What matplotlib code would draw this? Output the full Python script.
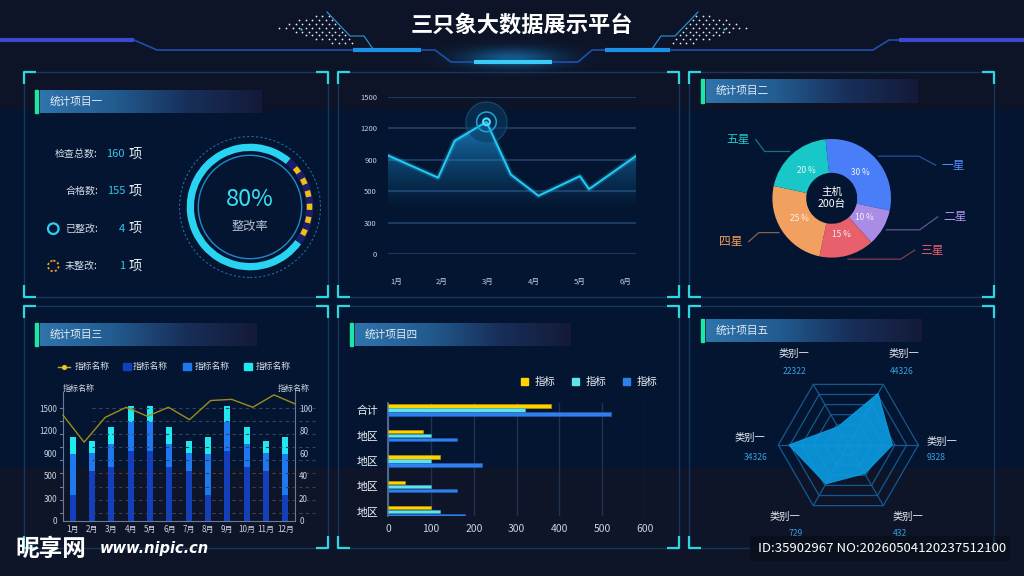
import numpy as np
import matplotlib.pyplot as plt
from matplotlib.patches import Rectangle, Circle, Wedge
from matplotlib.colors import to_rgb, LinearSegmentedColormap
from matplotlib.path import Path

plt.rcParams['font.family'] = ['Noto Sans CJK SC', 'DejaVu Sans']
plt.rcParams['axes.unicode_minus'] = False

W, H = 1024, 576

# ---------------- data ----------------
title = '三只象大数据展示平台'
panel_titles = ['统计项目一', '统计项目二', '统计项目三', '统计项目四', '统计项目五']

stat_names = ['检查总数:', '合格数:', '已整改:', '未整改:']
stat_values = [160, 155, 4, 1]
rate = 80
rate_name = '整改率'

line_months = ['1月', '2月', '3月', '4月', '5月', '6月']
line_x = [0.83, 1.92, 2.28, 2.97, 3.50, 4.10, 5.00, 5.20, 6.22]
line_y = [940, 670, 1080, 1260, 710, 470, 690, 525, 935]
line_ticks = [0, 300, 500, 900, 1200, 1500]

star_names = ['一星', '二星', '三星', '四星', '五星']
star_share = [30, 10, 15, 25, 20]
host_label = '主机\n200台'

bar_months = ['1月', '2月', '3月', '4月', '5月', '6月', '7月', '8月', '9月', '10月', '11月', '12月']
bar_s1 = [335, 595, 655, 930, 930, 655, 595, 335, 930, 655, 595, 335]
bar_s2 = [550, 315, 370, 395, 395, 370, 315, 550, 395, 370, 315, 550]
bar_s3 = [235, 150, 230, 210, 210, 230, 150, 235, 210, 230, 150, 235]
rate_line = [94, 70, 92, 101, 93, 101, 90, 107, 108, 101, 112, 104]
bar_ticks_l = [0, 300, 500, 900, 1200, 1500]
bar_ticks_r = [0, 20, 40, 60, 80, 100]
bar_legend = ['指标名称', '指标名称', '指标名称', '指标名称']
bar_axis_name = '指标名称'

region_names = ['合计', '地区', '地区', '地区', '地区']
ind_a = [380, 80, 120, 40, 100]
ind_b = [320, 100, 100, 100, 120]
ind_c = [520, 160, 220, 160, 180]
ind_legend = ['指标', '指标', '指标']

radar_names = ['类别一', '类别一', '类别一', '类别一', '类别一', '类别一']
radar_nums = ['9328', '44326', '22322', '34326', '729', '432']
radar_vals = [63, 85, 30, 85, 64, 47]

# value axis with uneven tick labels (piecewise scale)
knots = [0, 300, 500, 900, 1200, 1500, 1800]


def fwd(v):
    return np.interp(v, knots, np.arange(len(knots)))


def inv(p):
    return np.interp(p, np.arange(len(knots)), knots)


def frect(x0, y0, x1, y1):
    return [x0 / W, 1 - y1 / H, (x1 - x0) / W, (y1 - y0) / H]


fig = plt.figure(figsize=(10.24, 5.76), dpi=100)
fig.patch.set_facecolor('#0d1428')

bg = fig.add_axes([0, 0, 1, 1])
bg.axis('off')
bg.add_patch(Rectangle((0, 110), W, 358, color='#031530', zorder=0))
bg.add_patch(Rectangle((0, 468), W, 108, color='#0e1529', zorder=0))

# ---------------- header ----------------
gx, gy = np.meshgrid(np.linspace(-1, 1, 200), np.linspace(-1, 1, 60))
glow = np.zeros((60, 200, 4))
glow[..., :3] = to_rgb('#1a90d8')
glow[..., 3] = np.exp(-(gx ** 2 + gy ** 2) * 4) * 0.55
bg.imshow(glow, extent=(417, 607, 78, 38), aspect='auto', zorder=1)

hx = [0, 134, 157, 353, 435, 451, 578, 592, 873, 889, 1024]
hy = [40, 40, 50, 50, 50, 62, 62, 50, 50, 40, 40]
bg.plot(hx, hy, color='#1f4fae', lw=1.2, zorder=2)
for xa, xb, yy, c in [(0, 134, 40, '#3b48d0'), (899, 1024, 40, '#3b48d0'),
                      (353, 421, 50, '#1c8fe6'), (605, 670, 50, '#1c8fe6'),
                      (474, 552, 62, '#38ccf6')]:
    bg.plot([xa, xb], [yy, yy], color=c, lw=3, solid_capstyle='butt', zorder=3)

dot_shape = Path([(318, 14), (276, 27), (337, 47), (360, 47), (333, 14)])
dx_, dy_ = np.meshgrid(np.arange(276, 362, 6.6), np.arange(16, 47, 3.9))
dx_ = dx_ + (np.arange(dx_.shape[0])[:, None] % 2) * 3.3
pts = np.column_stack([dx_.ravel(), dy_.ravel()])
pts = pts[dot_shape.contains_points(pts)]
for sgn in (1, -1):
    xs = pts[:, 0] if sgn == 1 else 1025 - pts[:, 0]
    bg.scatter(xs, pts[:, 1], s=1.6, color='#e8eef8', lw=0, zorder=3)
    lx = np.array([327, 350, 364, 373])
    bg.plot(lx if sgn == 1 else 1025 - lx, [12, 36, 36, 49], color='#2a9ad8', lw=0.8, zorder=3)
bg.scatter([301, 724], [29, 29], s=2.5, color='#2ad0e0', lw=0, zorder=3)

bg.text(522, 25, title, ha='center', va='center', fontsize=16, fontweight='bold',
        color='white', zorder=4)

# ---------------- panels ----------------
def panel(x0, y0, x1, y1):
    bg.add_patch(Rectangle((x0, y0), x1 - x0, y1 - y0, fill=False, ec='#17365a', lw=1, zorder=2))
    L = 12
    for cx, cy, sx, sy in [(x0, y0, 1, 1), (x1, y0, -1, 1), (x0, y1, 1, -1), (x1, y1, -1, -1)]:
        bg.plot([cx + sx * L, cx, cx], [cy, cy, cy + sy * L], color='#2fd6e0', lw=1.6,
                solid_capstyle='butt', zorder=3)


bar_cmap = LinearSegmentedColormap.from_list('tb', ['#2f74ac', '#225c90', '#182f5a', '#141a38'])


def title_bar(x0, y0, x1, y1, text):
    bg.imshow(np.linspace(0, 1, 256)[None, :], cmap=bar_cmap, extent=(x0, x1, y1, y0),
              aspect='auto', zorder=2)
    bg.add_patch(Rectangle((x0 - 5, y0), 2.5, y1 - y0, color='#1ee6a4', zorder=2))
    bg.text(x0 + 10, (y0 + y1) / 2, text, color='#e4ecf6', fontsize=7.7, va='center', zorder=3)


panel(24, 72, 328, 297)
panel(338, 72, 679, 297)
panel(689, 72, 994, 297)
panel(24, 306, 328, 548)
panel(338, 306, 679, 548)
panel(689, 306, 994, 548)
title_bar(40, 90, 262, 113, panel_titles[0])
title_bar(706, 79, 918, 103, panel_titles[1])
title_bar(40, 323, 257, 346, panel_titles[2])
title_bar(355, 323, 571, 346, panel_titles[3])
title_bar(706, 319, 922, 342, panel_titles[4])

# ---------------- panel 1: stats + gauge ----------------
stat_y = [154, 191, 228.7, 266]
for name, val, yy in zip(stat_names, stat_values, stat_y):
    bg.text(98, yy, name, ha='right', va='center', fontsize=7.2, color='#d4dbe8', zorder=3)
    bg.text(125, yy, str(val), ha='right', va='center', fontsize=8, color='#36c6ea', zorder=3)
    bg.text(129, yy, '项', ha='left', va='center', fontsize=9.5, color='#eef2f8', zorder=3)
bg.add_patch(Circle((53.3, stat_y[2]), 5.3, fill=False, ec='#2bd0f0', lw=1.6, zorder=3))
bg.add_patch(Circle((53.3, stat_y[3]), 5.3, fill=False, ec='#f0a028', lw=1.3,
                    ls=(0, (1.2, 1.2)), zorder=3))

axg = fig.add_axes(frect(170, 127, 330, 287))
axg.set_xlim(-80, 80)
axg.set_ylim(-80, 80)
axg.set_aspect('equal')
axg.axis('off')
arc_end = 50
arc_start = arc_end - 86
axg.add_patch(Wedge((0, 0), 63.3, arc_end, arc_start + 360, width=7.3, color='#28d4f2', lw=0))
axg.add_patch(Wedge((0, 0), 63.3, arc_start, arc_end, width=7.3, color='#1b1c6e', lw=0))
for a in np.linspace(38, -25, 6):
    axg.add_patch(Wedge((0, 0), 62.3, a - 3, a + 3, width=5.5, color='#f0c010', lw=0))
axg.add_patch(Circle((0, 0), 51.7, fill=False, ec='#1e8ad0', lw=1))
axg.add_patch(Circle((0, 0), 70.5, fill=False, ec='#1f6aa8', lw=0.8, ls=(0, (2, 2))))
axg.text(0, 8, f'{rate}%', ha='center', va='center', fontsize=17, color='#37e0f5')
axg.text(0, -19, rate_name, ha='center', va='center', fontsize=8.8, color='#b4bccc')

# ---------------- panel 2: area line ----------------
ax2 = fig.add_axes(frect(388, 96.7, 636, 254))
ax2.set_facecolor('none')
ax2.set_yscale('function', functions=(fwd, inv))
ax2.set_xlim(0.83, 6.22)
ax2.set_ylim(0, 1500)
for s in ax2.spines.values():
    s.set_visible(False)
ax2.set_yticks(line_ticks, [str(t) for t in line_ticks])
ax2.set_xticks(range(1, 7), line_months)
ax2.tick_params(axis='both', length=0, labelsize=5.5, labelcolor='#c6cede')
ax2.tick_params(axis='y', pad=8)
ax2.tick_params(axis='x', pad=17)
ax2.grid(axis='y', color='#1c3a60', lw=1.5)
ax2.set_axisbelow(True)

poly = ax2.fill_between(line_x, line_y, 0, facecolor='none', lw=0)
vals = np.linspace(0, 1500, 400)
alpha = np.clip((fwd(vals) - 1.3) / 2.7, 0, 1) ** 1.3 * 0.8
img = np.zeros((400, 1, 4))
img[..., :3] = to_rgb('#1a86c8')
img[:, 0, 3] = alpha
im = ax2.imshow(img, extent=[0.83, 6.22, 0, 1500], origin='lower', aspect='auto', zorder=1)
im.set_clip_path(poly.get_paths()[0], transform=ax2.transData)
ax2.plot(line_x, line_y, color='#22c4f0', lw=4, alpha=0.2, zorder=2)
ax2.plot(line_x, line_y, color='#22c8f4', lw=1.5, zorder=3)
pk = int(np.argmax(line_y))
ax2.scatter([line_x[pk]], [line_y[pk]], s=880, facecolors='#0b3a60', edgecolors='#1a5e90',
            lw=0.9, alpha=0.6, zorder=2, clip_on=False)
ax2.scatter([line_x[pk]], [line_y[pk]], s=200, facecolors='none', edgecolors='#1ea6d8',
            lw=1.1, zorder=4, clip_on=False)
ax2.scatter([line_x[pk]], [line_y[pk]], s=24, facecolors='none', edgecolors='#4ee0ff',
            lw=1.5, zorder=4, clip_on=False)

# ---------------- panel 3: donut ----------------
star_colors = ['#4a7ef8', '#a98ce6', '#e8606c', '#f2a060', '#18c8c8']
label_colors = ['#5b8cff', '#b294f2', '#f06070', '#f4a060', '#22c8c8']
lead_x = [87, 88, 69, 73, 67]
lead_dx = [17, 18, 14, 10, 9]
lead_dy = [-9, 13, 9, -9, 12]
cx3, cy3 = 831.7, 198.3
ax3 = fig.add_axes(frect(cx3 - 110, cy3 - 90, cx3 + 110, cy3 + 90))
wedges, texts, autotexts = ax3.pie(
    star_share, colors=star_colors, startangle=96, counterclock=False, radius=59.3,
    wedgeprops=dict(width=33.8, lw=0), autopct='%d %%', pctdistance=0.64,
    textprops=dict(color='#f2f4f8', fontsize=6))
ax3.set_xlim(-110, 110)
ax3.set_ylim(-90, 90)
ax3.set_aspect('equal')
ax3.axis('off')
ax3.text(0, 0, host_label, ha='center', va='center', fontsize=7.6, color='white',
         linespacing=1.25)
for i, w in enumerate(wedges):
    mid = np.deg2rad((w.theta1 + w.theta2) / 2)
    p0 = (63 * np.cos(mid), 63 * np.sin(mid))
    side = 1 if p0[0] > 0 else -1
    p1 = (side * lead_x[i], p0[1])
    p2 = (p1[0] + side * lead_dx[i], p1[1] + lead_dy[i])
    ax3.plot([p0[0], p1[0], p2[0]], [p0[1], p1[1], p2[1]], color=star_colors[i], lw=0.9,
             alpha=0.55, clip_on=False)
    ax3.text(p2[0] + side * 6, p2[1], star_names[i], color=label_colors[i], fontsize=8.5,
             ha='left' if side > 0 else 'right', va='center')

# ---------------- panel 4: stacked bars + line ----------------
ax4 = fig.add_axes(frect(63, 391.5, 295, 521))
ax4.set_facecolor('none')
ax4.set_yscale('function', functions=(fwd, inv))
ax4.set_ylim(0, 1725)
ax4.set_xlim(-0.5, 11.5)
xb = np.arange(len(bar_months))
bw = 0.32
b1 = np.array(bar_s1)
b2 = np.array(bar_s2)
ax4.bar(xb, b1, width=bw, color='#123fbe', lw=0)
ax4.bar(xb, b2, bottom=b1, width=bw, color='#1e78f0', lw=0)
ax4.bar(xb, bar_s3, bottom=b1 + b2, width=bw, color='#1fe8f0', lw=0)
ax4.set_yticks(bar_ticks_l, [str(t) for t in bar_ticks_l])
ax4.set_xticks(xb, bar_months)
ax4.tick_params(axis='both', length=0, labelsize=5.8, labelcolor='#c8d2e2')
ax4.tick_params(axis='y', pad=4)
ax4.tick_params(axis='x', pad=3)
for k in ['top', 'right']:
    ax4.spines[k].set_visible(False)
for k in ['left', 'bottom']:
    ax4.spines[k].set_color('#6a7a98')
ax4r = ax4.twinx()
ax4r.set_ylim(0, 115)
ax4r.set_yticks(bar_ticks_r, [str(t) for t in bar_ticks_r])
ax4r.tick_params(axis='y', length=0, labelsize=5.8, labelcolor='#c8d2e2', pad=3)
for k in ['top', 'left', 'bottom']:
    ax4r.spines[k].set_visible(False)
ax4r.spines['right'].set_color('#6a7a98')
for gv in np.linspace(7.5, 100, 9):
    ax4r.axhline(gv, xmin=0.124, xmax=1.086, color='#34445e', lw=0.8, ls=(0, (3, 3)),
                 clip_on=False, zorder=0)
    ax4r.plot([-0.68, -0.5], [gv, gv], color='#6a7a98', lw=0.8, clip_on=False)
axl = fig.add_axes(frect(63, 391.5, 295, 521))
axl.set_xlim(0, len(rate_line) - 1)
axl.set_ylim(0, 115)
axl.axis('off')
axl.plot(np.arange(len(rate_line)), rate_line, color='#a08c1c', lw=1, clip_on=False)
bg.text(79, 388, bar_axis_name, ha='center', va='center', fontsize=5.8, color='#d0d8e6', zorder=3)
bg.text(294, 388, bar_axis_name, ha='center', va='center', fontsize=5.8, color='#d0d8e6', zorder=3)

leg_y = 366.7
bg.plot([58, 70], [leg_y, leg_y], color='#c8aa20', lw=1, zorder=3)
bg.scatter([64], [leg_y], s=14, color='#e8c81c', lw=0, zorder=4)
for xs_, c in [(123, '#123fbe'), (183, '#1e78f0'), (244, '#1fe8f0')]:
    bg.add_patch(Rectangle((xs_, leg_y - 3.5), 7.5, 7, color=c, zorder=3))
for xt, t in zip([75, 133, 195, 256], bar_legend):
    bg.text(xt, leg_y, t, ha='left', va='center', fontsize=6.3, color='#d8e0ec', zorder=3)

# ---------------- panel 5: horizontal bars ----------------
ax5 = fig.add_axes(frect(388.3, 403, 645, 516))
ax5.set_facecolor('none')
ax5.set_xlim(0, 600)
ax5.set_ylim(4.17, -0.28)
yr = np.arange(len(region_names))
bh = 0.13
ax5.barh(yr - 0.157, ind_a, height=bh, color='#ffd200', ec='#c89a00', lw=0.4, zorder=3)
ax5.barh(yr, ind_b, height=bh, color='#5fe3ec', ec='#3ab0c0', lw=0.4, zorder=3)
ax5.barh(yr + 0.157, ind_c, height=bh, color='#2f80ea', ec='#2060c0', lw=0.4, zorder=3)
ax5.set_yticks(yr, region_names)
ax5.set_xticks(range(0, 601, 100))
ax5.tick_params(axis='both', length=0, colors='#c8d2e2')
ax5.tick_params(axis='x', labelsize=7.5, pad=6)
ax5.tick_params(axis='y', labelsize=7.8, labelcolor='#eef2f8', pad=7)
ax5.grid(axis='x', color='#1d3352', lw=1)
ax5.set_axisbelow(True)
for k in ['top', 'right', 'bottom']:
    ax5.spines[k].set_visible(False)
ax5.spines['left'].set_color('#5a78a0')
ax5.spines['left'].set_linewidth(1.2)
leg5_y = 381.5
for xs_, c, xt, t in zip([521, 572, 623], ['#ffd200', '#5fe3ec', '#2f80ea'], [535, 586, 637], ind_legend):
    bg.add_patch(Rectangle((xs_, leg5_y - 3.5), 7, 7, color=c, zorder=3))
    bg.text(xt, leg5_y, t, ha='left', va='center', fontsize=7.5, color='#eef2f8', zorder=3)

# ---------------- panel 6: radar ----------------
cx6, cy6 = 848.3, 445
ax6 = fig.add_axes(frect(cx6 - 110, cy6 - 110, cx6 + 110, cy6 + 110))
k6 = 100 / 70
ax6.set_xlim(-110 * k6, 110 * k6)
ax6.set_ylim(-110 * k6, 110 * k6)
ax6.set_aspect('equal')
ax6.axis('off')
ang = np.deg2rad(np.arange(len(radar_vals)) * 60)
for lv in range(1, 7):
    r = 100 * lv / 6
    ax6.plot(np.r_[r * np.cos(ang), r], np.r_[r * np.sin(ang), 0], color='#16588e', lw=0.9)
for a in ang:
    ax6.plot([0, 100 * np.cos(a)], [0, 100 * np.sin(a)], color='#16588e', lw=0.9)
rv = np.array(radar_vals)
ax6.fill(rv * np.cos(ang), rv * np.sin(ang), color='#0b9ce2', alpha=0.9, lw=0.8, zorder=3)
name_off = [(94, 3), (56, 91), (-54, 91), (-98, 7), (-63, -72), (60, -72)]
num_off = [(88, -13), (53, 73), (-54, 73), (-93, -12), (-53, -88), (52, -88)]
for nm, num, (nx, ny), (vx, vy) in zip(radar_names, radar_nums, name_off, num_off):
    ax6.text(nx * k6, ny * k6, nm, ha='center', va='center', fontsize=7.4, color='#e8eef6')
    ax6.text(vx * k6, vy * k6, num, ha='center', va='center', fontsize=6.2, color='#3a9ee0')

# ---------------- watermark / id strip ----------------
top = fig.add_axes([0, 0, 1, 1])
top.set_xlim(0, W)
top.set_ylim(H, 0)
top.axis('off')
top.add_patch(Rectangle((750, 536), 259, 24, color='#0a0f1c', alpha=0.85))
top.text(758, 548, 'ID:35902967 NO:20260504120237512100', ha='left', va='center',
         fontsize=9.5, color='white')
top.text(15, 549, '昵享网', ha='left', va='center', fontsize=17, fontweight='bold',
         color='white')
top.text(100, 549, 'www.nipic.cn', ha='left', va='center', fontsize=10.5, fontweight='bold',
         fontstyle='italic', color='white', family='DejaVu Sans')

bg.set_xlim(0, W)
bg.set_ylim(H, 0)

fig.savefig('out.png', dpi=100, facecolor=fig.get_facecolor())
